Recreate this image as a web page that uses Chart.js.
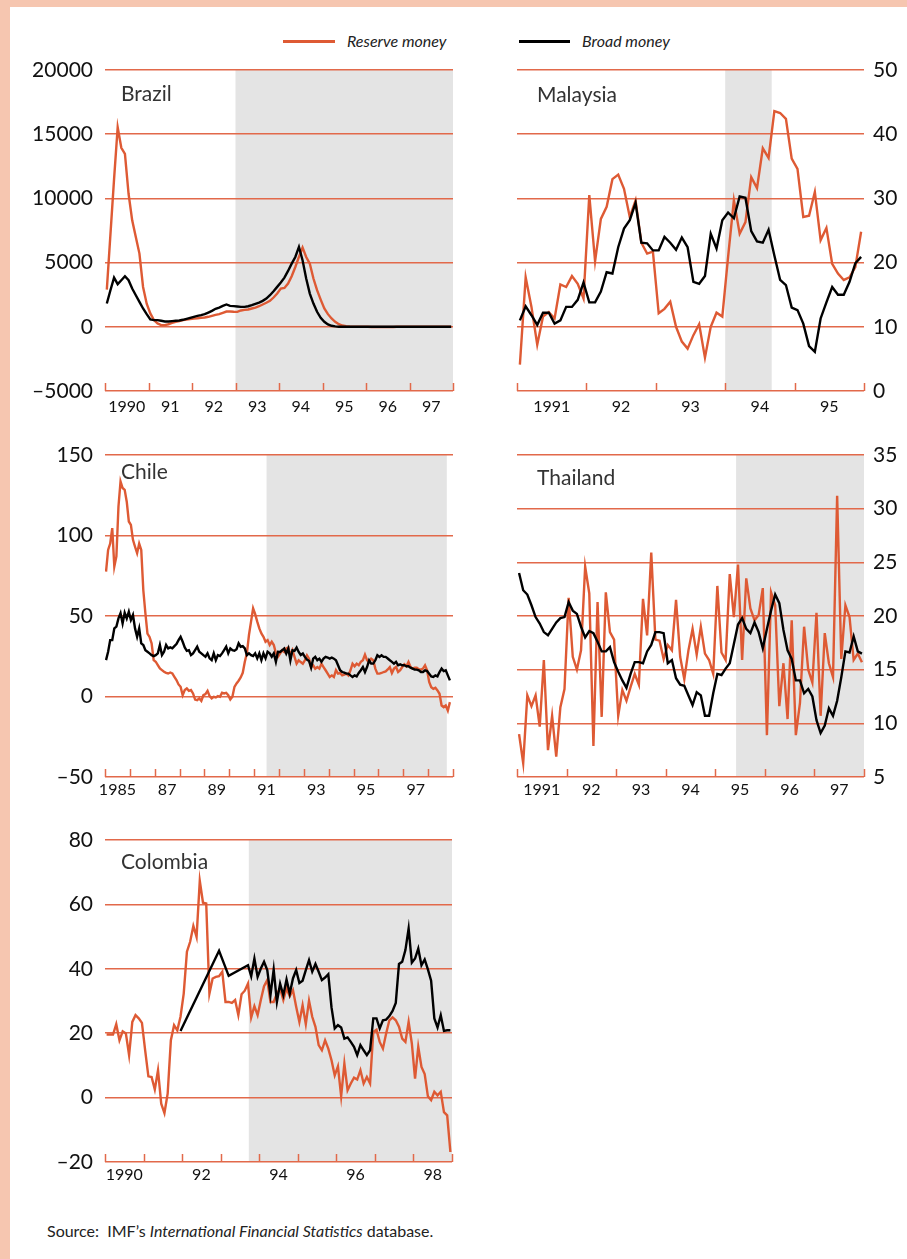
<!DOCTYPE html>
<html>
<head>
<meta charset="utf-8">
<script src="https://cdn.jsdelivr.net/npm/chart.js@4.4.1/dist/chart.umd.min.js"></script>
<style>
  html, body { margin:0; padding:0; }
  body { width:907px; height:1259px; background:#fff; position:relative; overflow:hidden; font-family: Lato, "Open Sans", sans-serif; }
  .abs { position:absolute; }
  canvas { position:absolute; }
  .title { position:absolute; font-size:21px; line-height:22px; color:#333; }
  .leg { position:absolute; font-size:16px; font-style:italic; color:#222; line-height:18px; }
</style>
</head>
<body>
<div class="abs" style="left:0;top:0;width:907px;height:7px;background:#f6c6b0"></div>
<div class="abs" style="left:0;top:0;width:10px;height:1259px;background:#f6c6b0"></div>

<div class="abs" style="left:283px;top:40px;width:52px;height:3px;background:#de5a34"></div>
<div class="leg" style="left:347px;top:32px">Reserve money</div>
<div class="abs" style="left:519px;top:40px;width:51px;height:3px;background:#000"></div>
<div class="leg" style="left:582px;top:32px">Broad money</div>

<canvas id="cBrazil"></canvas>
<canvas id="cMalaysia"></canvas>
<canvas id="cChile"></canvas>
<canvas id="cThailand"></canvas>
<canvas id="cColombia"></canvas>

<div class="title" style="left:121px;top:82px">Brazil</div>
<div class="title" style="left:537px;top:83px">Malaysia</div>
<div class="title" style="left:121px;top:460px">Chile</div>
<div class="title" style="left:537px;top:466px">Thailand</div>
<div class="title" style="left:121px;top:850px">Colombia</div>

<div class="abs" style="left:47px;top:1221px;font-size:16px;line-height:20px;color:#222">Source:&nbsp; IMF’s <i>International Financial Statistics</i> database.</div>

<script>
// ---------------- DATA (monthly) ----------------
const seriesNames = ['Reserve money', 'Broad money'];

// Brazil, Jan 1990 – Dec 1997
const brazilStart = 1990;
const brazilReserve = [
  2900, 7200, 11500, 15540, 13940, 13470, 10360, 8290, 7000, 5700, 3100, 1800,
  1040, 520, 260, 130, 130, 200, 300, 390, 440, 520, 570, 600,
  650, 670, 700, 725, 780, 855, 930, 985, 1090, 1190, 1190, 1170,
  1165, 1270, 1320, 1350, 1425, 1500, 1600, 1740, 1870, 2020, 2280, 2590,
  2980, 3030, 3370, 3940, 4660, 5440, 6170, 5440, 4920, 3760, 2850, 2120,
  1425, 985, 650, 390, 200, 100, 50, 20, 10, 0, 0, 0,
  0, -10, -10, -20, -20, -20, -10, -10, 0, 0, 0, 0,
  0, 0, 0, 0, 0, 0, 0, 0, 0, 0, 0, 0
];
const brazilBroad = [
  1810, 2850, 3830, 3320, 3630, 3940, 3630, 2980, 2460, 1940, 1425, 985,
  570, 520, 520, 470, 415, 415, 440, 470, 490, 545, 620, 700,
  780, 855, 910, 985, 1110, 1240, 1400, 1500, 1630, 1740, 1630, 1610,
  1580, 1550, 1550, 1600, 1680, 1790, 1890, 2020, 2200, 2460, 2770, 3110,
  3450, 3830, 4350, 4920, 5440, 6220, 5180, 3760, 2590, 1810, 1170, 700,
  390, 180, 80, 30, 0, 0, 0, 0, 0, 0, 0, 0,
  0, 0, 0, 0, 0, 0, 0, 0, 0, 0, 0, 0,
  0, 0, 0, 0, 0, 0, 0, 0, 0, 0, 0, 0
];
const brazilYTicks = [-5000, 20000, 5000];
const brazilXRange = [1990, 1998];
const brazilLabelYears = [1990, 1991, 1992, 1993, 1994, 1995, 1996, 1997];
const brazilLabels = ['1990', '91', '92', '93', '94', '95', '96', '97'];
const brazilShade = [1993, 1998];

// Malaysia, Jan 1991 – Dec 1995
const malaysiaStart = 1991;
const malaysiaReserve = [
  4.1, 17.7, 13.1, 7.2, 11.6, 12.3, 11.3, 16.6, 16.2, 17.9, 16.7, 14.4,
  30.5, 20.2, 26.8, 28.7, 33.0, 33.7, 31.5, 27.1, 29.7, 23.1, 21.4, 21.7,
  12.1, 12.8, 13.9, 10.0, 7.7, 6.6, 8.7, 10.4, 5.2, 10.0, 12.2, 11.6,
  20.9, 29.7, 24.5, 26.3, 33.3, 31.6, 37.8, 36.3, 43.6, 43.3, 42.4, 36.2,
  34.6, 27.1, 27.3, 31.0, 23.5, 25.4, 19.8, 18.3, 17.3, 17.7, 19.3, 24.8
];
const malaysiaBroad = [
  11.0, 13.2, 11.8, 10.3, 12.2, 12.2, 10.5, 11.0, 13.1, 13.1, 14.2, 16.9,
  13.8, 13.8, 15.5, 18.5, 18.3, 22.4, 25.3, 26.6, 29.3, 23.1, 23.0, 21.9,
  21.9, 24.0, 23.1, 22.0, 23.9, 22.4, 17.0, 16.7, 17.9, 24.5, 22.2, 26.6,
  27.8, 26.9, 30.3, 30.1, 24.9, 23.3, 23.1, 25.1, 21.1, 17.3, 16.5, 13.0,
  12.6, 10.5, 7.0, 6.1, 11.3, 13.8, 16.2, 15.0, 15.0, 17.0, 19.9, 20.9
];
const malaysiaYTicks = [0, 50, 10];
const malaysiaXRange = [1991, 1996];
const malaysiaLabelYears = [1991, 1992, 1993, 1994, 1995];
const malaysiaLabels = ['1991', '92', '93', '94', '95'];
const malaysiaShade = [1994, 1994.67];

// Chile, Jan 1985 – Nov 1998
const chileStart = 1985;
const chileReserve = [
  77.6, 91, 95, 104.6, 80.7, 87, 118, 133.6, 129.5, 128.4, 121, 108.7,
  106.6, 97.3, 93, 89, 95, 91, 66, 51.7, 39, 37, 33, 22.6,
  21.6, 19.5, 17.4, 16.4, 15.4, 14.7, 14.3, 14.9, 14.3, 12.2, 10.2, 7.5,
  6, 0.8, 4, 5, 3.5, 4, 1.9, -1.9, -2.3, -1.2, -2.7, 0.8,
  1.5, 3.5, 0.2, -1.2, -0.2, -0.6, 0.2, -0.2, 2.3, 1.9, 2.3, 0.8,
  -1.9, -0.2, 6, 8.1, 9.8, 11.8, 14.7, 21.6, 26.8, 38.2, 46.5, 54.8,
  51.2, 46.5, 42.3, 39.2, 37.1, 34, 35, 32, 34, 32, 26.8, 24.7,
  26.7, 28.7, 27.7, 29.8, 30.4, 25.6, 28.7, 24.6, 20.4, 22.5, 21.4,
  20.4, 22.5, 25.6, 23.5, 18.3, 19.4, 17.3, 18.3, 17.3, 20.4,
  18.3, 16.3, 14.2, 12.1, 13.1, 12.1, 16.3, 14.2, 14.6, 13.1, 13.6,
  14.2, 13.1, 16.3, 20.4, 18.8, 20.4, 19.4, 21.5, 22.5, 26,
  22.5, 21.5, 23.5, 22.5, 17.3, 14.2, 14.2, 14.6, 15.2, 15.6, 16.8,
  18.3, 14.6, 17.3, 18.3, 15.2, 16.3, 18.3, 20, 18.8, 21.5,
  18.3, 17.3, 17.9, 17.9, 17.0, 16.7, 17.3, 19.4, 16.3, 9, 5.8,
  4.8, 5.4, 3.8, 1.7, -5.6, -6.7, -5.6, -8.8, -3.5
];
const chileBroad = [
  22.6, 27.8, 35, 35, 42.3, 43.4, 48.5, 51.7, 45.4, 52, 48.5, 52.7,
  47.5, 50.6, 42.3, 37.1, 42.3, 33, 32, 28.8, 27.8, 26.8, 25.7, 25.1,
  25.7, 26.8, 32, 25.7, 27.8, 32, 29.9, 30.5, 29.9, 31.3, 32.6, 35,
  37.1, 34, 30.5, 28.4, 28.8, 25.7, 26.8, 28.8, 30.9, 27.8, 26.8, 25.7,
  24.7, 26.8, 23.7, 22.6, 26.8, 22.6, 25.7, 25.1, 26.8, 28.8, 30.9, 26.8,
  29.9, 28.8, 28.4, 29.3, 33, 30.9, 31.3, 29.9, 25.7, 26.8, 25.7, 25.1,
  26.8, 23.7, 26.8, 22.6, 26.8, 23.7, 27.8, 26.8, 24.7, 26.8, 21.6, 27.8,
  27.7, 28.7, 29.8, 26.7, 29.8, 22.5, 28.7, 28.3, 30.4, 27.7, 25.8,
  26.7, 24.6, 22.9, 22.1, 17.9, 23.5, 24.6, 22.5, 23.5, 21.5,
  23.5, 24.6, 24.2, 23.5, 24.2, 23.5, 22.5, 19.4, 16.3, 15.2, 14.8,
  14.2, 14.2, 13.1, 12.1, 13.1, 12.5, 14.6, 16.3, 18.3, 15.2,
  18.3, 22.5, 20.4, 20.4, 22.5, 25.6, 24.6, 25.6, 24.6, 24.6, 23.6,
  22.5, 21.5, 20.4, 21.5, 19.4, 20, 19.4, 19.4, 18.8, 18.8,
  17.9, 17.3, 16.7, 16.7, 16.2, 15.2, 15.2, 16.3, 15.8, 14.2, 12.5,
  12.1, 13.1, 12.5, 15.2, 17.3, 15.8, 16.3, 13.1, 10
];
const chileYTicks = [-50, 150, 50];
const chileXRange = [1985, 1999];
const chileLabelYears = [1985, 1987, 1989, 1991, 1993, 1995, 1997];
const chileLabels = ['1985', '87', '89', '91', '93', '95', '97'];
const chileShade = [1991.5, 1998.75];

// Thailand, Jan 1991 – Dec 1997
const thailandStart = 1991;
const thailandReserve = [
  9.0, 6.3, 12.6, 11.6, 12.6, 9.7, 15.9, 7.5, 10.7, 6.9, 11.5, 13.2,
  21.7, 16.2, 15.0, 16.8, 24.6, 22.1, 7.9, 21.3, 10.6, 22.2, 18.5, 17.8,
  10.7, 13.1, 12.1, 13.4, 14.6, 13.6, 21.6, 18.2, 25.9, 17.8, 17.7, 16.0,
  17.3, 16.8, 21.5, 16.2, 14.1, 16.8, 18.8, 16.4, 19.0, 16.5, 15.9, 14.6,
  22.8, 16.6, 15.9, 23.9, 19.9, 24.8, 15.9, 23.5, 20.7, 19.6, 20.1, 22.6,
  8.9, 22.2, 21.0, 11.6, 15.6, 10.4, 19.6, 8.9, 11.9, 19.0, 15.0, 13.8,
  20.3, 10.7, 18.4, 15.6, 14.3, 31.2, 16.0, 21.0, 19.9, 15.9, 16.5, 15.7
];
const thailandBroad = [
  24.0, 22.4, 22.0, 21.0, 19.9, 19.3, 18.5, 18.2, 18.8, 19.4, 19.8, 19.9,
  21.3, 20.5, 20.2, 19.0, 18.0, 18.6, 18.4, 17.6, 16.7, 16.7, 17.1, 15.7,
  14.8, 14.0, 13.3, 14.6, 15.7, 15.7, 15.6, 16.7, 17.3, 18.5, 18.5, 18.4,
  15.6, 15.9, 14.2, 13.6, 13.5, 12.6, 11.7, 12.9, 12.6, 10.7, 10.7, 12.8,
  14.6, 14.5, 15.1, 15.6, 17.4, 19.2, 19.8, 18.8, 18.4, 19.4, 18.5, 17.0,
  18.8, 20.5, 22.0, 21.2, 18.7, 16.8, 16.0, 14.0, 14.0, 12.8, 13.2, 12.5,
  10.3, 9.1, 9.8, 11.4, 10.7, 12.1, 14.3, 16.7, 16.6, 18.1, 16.7, 16.5
];
const thailandYTicks = [5, 35, 5];
const thailandXRange = [1991, 1998];
const thailandLabelYears = [1991, 1992, 1993, 1994, 1995, 1996, 1997];
const thailandLabels = ['1991', '92', '93', '94', '95', '96', '97'];
const thailandShade = [1995.42, 1998];

// Colombia, Jan 1990 – Dec 1998 (broad money missing before late 1991, sparse until 1993)
const colombiaStart = 1990;
const colombiaReserve = [
  19.6, 19.6, 19.6, 22.8, 17.8, 20.6, 19.9, 13.2, 23.5, 25.6, 24.6, 23.2,
  14.7, 6.6, 6.4, 2.5, 8.5, -1.9, -4.8, 1.2, 17.8, 22.5, 20.9, 25.1,
  32.3, 45.3, 48.4, 53.3, 49.9, 67.3, 60.5, 60.3, 32.3, 37.0, 37.5, 37.7,
  39.1, 29.7, 29.7, 29.4, 30.3, 25.6, 32.1, 33.2, 35.4, 24.9, 28.4, 25.6,
  30.3, 34.6, 36.5, 29.7, 29.7, 32.3, 33.9, 30.3, 33.9, 31.5, 33.4, 28.2,
  23.5, 28.7, 22.8, 30.1, 25.1, 22.0, 16.3, 14.7, 17.8, 15.2, 11.6, 6.9,
  9.7, 0.4, 10.6, 2.3, 4.4, 6.2, 5.6, 8.5, 4.4, 6.4, 4.4, 20.4,
  21.1, 17.3, 15.2, 19.9, 24.0, 24.9, 24.0, 22.0, 18.3, 17.3, 23.5, 16.8,
  5.9, 15.8, 9.5, 7.3, 0.4, -0.8, 1.8, 0.7, 1.8, -4.5, -5.5, -16.9
];
const colombiaBroad = [
  null, null, null, null, null, null, null, null, null, null, null, null,
  null, null, null, null, null, null, null, null, null, null, null, 20.7,
  null, null, null, null, null, null, null, null, null, null, null, 45.6,
  null, null, 37.8, null, null, null, null, null, 41.1, 37.7, 43.2, 37.5,
  40.1, 42.2, 39.6, 31.8, 39.8, 29.7, 35.4, 31.8, 36.7, 32.3, 37.0, 39.6,
  35.6, 36.3, 39.6, 42.7, 39.1, 41.5, 39.1, 36.5, 37.3, 38.3, 28.0, 21.5,
  22.5, 21.8, 18.3, 18.7, 17.3, 15.8, 13.2, 16.3, 14.7, 13.2, 14.7, 24.6,
  24.6, 21.5, 24.0, 24.2, 25.3, 26.9, 29.4, 41.5, 42.2, 45.8, 52.5, 41.9,
  43.2, 46.3, 41.1, 42.9, 39.8, 36.3, 24.6, 21.8, 25.6, 20.7, 20.9, 20.9
];
const colombiaYTicks = [-20, 80, 20];
const colombiaXRange = [1990, 1999];
const colombiaLabelYears = [1990, 1992, 1994, 1996, 1998];
const colombiaLabels = ['1990', '92', '94', '96', '98'];
const colombiaShade = [1993.73, 1999];

// ---------------- STYLE ----------------
const RED = '#de5a34';
const GRID = '#e2694a';
const SHADE = '#e4e4e4';
const FONT = 'Lato, "Open Sans", sans-serif';

const decoPlugin = {
  id: 'deco',
  beforeDraw(chart, args, opts) {
    const { ctx, chartArea: a, scales: { x } } = chart;
    const x0 = x.getPixelForValue(opts.shade[0]);
    const x1 = x.getPixelForValue(opts.shade[1]);
    ctx.save();
    ctx.fillStyle = SHADE;
    ctx.fillRect(x0, a.top, x1 - x0, a.bottom - a.top);
    ctx.restore();
  },
  beforeDatasetsDraw(chart, args, opts) {
    const { ctx, chartArea: a, scales: { x } } = chart;
    ctx.save();
    ctx.strokeStyle = GRID;
    ctx.lineWidth = 1.5;
    for (let yr = Math.ceil(x.min); yr <= x.max; yr++) {
      const px = Math.round(x.getPixelForValue(yr)) + 0.5;
      ctx.beginPath();
      ctx.moveTo(px, a.bottom);
      ctx.lineTo(px, a.bottom - 8);
      ctx.stroke();
    }
    ctx.restore();
  }
};

function toPoints(start, arr) {
  return arr.map((v, i) => ({ x: start + (i + 0.5) / 12, y: v }));
}
function fmtY(v) { return v < 0 ? '\u2013' + Math.abs(v) : String(v); }

function buildPanel(id, p) {
  const cv = document.getElementById(id);
  const left = p.yPos === 'left';
  const canvasLeft = left ? 10 : 470;
  const canvasRight = left ? 470 : 907;
  const topPad = 34;
  const xH = 34;
  const canvasTop = p.area.t - topPad;
  const canvasBottom = p.area.b + xH;
  cv.width = canvasRight - canvasLeft;
  cv.height = canvasBottom - canvasTop;
  cv.style.left = canvasLeft + 'px';
  cv.style.top = canvasTop + 'px';
  cv.style.width = cv.width + 'px';
  cv.style.height = cv.height + 'px';
  const yW = left ? p.area.l - canvasLeft : canvasRight - p.area.r;
  const padding = left
    ? { left: 0, right: canvasRight - p.area.r, top: topPad, bottom: 0 }
    : { left: p.area.l - canvasLeft, right: 0, top: topPad, bottom: 0 };

  new Chart(cv, {
    type: 'line',
    data: {
      datasets: [
        { label: seriesNames[1], data: toPoints(p.start, p.broad), borderColor: '#000', borderWidth: 2.4, pointRadius: 0, tension: 0, spanGaps: true, fill: false },
        { label: seriesNames[0], data: toPoints(p.start, p.reserve), borderColor: RED, borderWidth: 2.4, pointRadius: 0, tension: 0, spanGaps: true, fill: false }
      ]
    },
    options: {
      responsive: false,
      animation: false,
      devicePixelRatio: 1,
      layout: { padding },
      plugins: { legend: { display: false }, tooltip: { enabled: false }, deco: { shade: p.shade } },
      scales: {
        x: {
          type: 'linear',
          min: p.xRange[0], max: p.xRange[1],
          afterBuildTicks(s) { s.ticks = p.labelYears.map(v => ({ value: v + 0.5 })); },
          afterFit(s) { s.height = xH; },
          ticks: {
            autoSkip: false, maxRotation: 0, padding: p.xPad,
            callback: (v, i) => p.labels[i],
            font: { family: FONT, size: 16 }, color: '#111'
          },
          grid: { display: false, drawTicks: false },
          border: { display: false }
        },
        y: {
          position: p.yPos,
          min: p.yTicks[0], max: p.yTicks[1],
          afterFit(s) { s.width = yW; },
          ticks: {
            stepSize: p.yTicks[2], padding: p.yPad,
            callback: fmtY,
            font: { family: FONT, size: 21 }, color: '#111'
          },
          grid: { color: GRID, lineWidth: 1.5, drawTicks: false },
          border: { display: false }
        }
      }
    },
    plugins: [decoPlugin]
  });
}

buildPanel('cBrazil', {
  yPos: 'left', area: { l: 105, t: 70, r: 453, b: 391 }, start: brazilStart,
  reserve: brazilReserve, broad: brazilBroad, yTicks: brazilYTicks, xRange: brazilXRange,
  labelYears: brazilLabelYears, labels: brazilLabels, shade: brazilShade, xPad: 6, yPad: 12
});
buildPanel('cMalaysia', {
  yPos: 'right', area: { l: 517, t: 70, r: 864, b: 391 }, start: malaysiaStart,
  reserve: malaysiaReserve, broad: malaysiaBroad, yTicks: malaysiaYTicks, xRange: malaysiaXRange,
  labelYears: malaysiaLabelYears, labels: malaysiaLabels, shade: malaysiaShade, xPad: 6, yPad: 9
});
buildPanel('cChile', {
  yPos: 'left', area: { l: 105, t: 455, r: 453, b: 777 }, start: chileStart,
  reserve: chileReserve, broad: chileBroad, yTicks: chileYTicks, xRange: chileXRange,
  labelYears: chileLabelYears, labels: chileLabels, shade: chileShade, xPad: 3, yPad: 12
});
buildPanel('cThailand', {
  yPos: 'right', area: { l: 517, t: 455, r: 864, b: 777 }, start: thailandStart,
  reserve: thailandReserve, broad: thailandBroad, yTicks: thailandYTicks, xRange: thailandXRange,
  labelYears: thailandLabelYears, labels: thailandLabels, shade: thailandShade, xPad: 3, yPad: 9
});
buildPanel('cColombia', {
  yPos: 'left', area: { l: 105, t: 840, r: 452, b: 1162 }, start: colombiaStart,
  reserve: colombiaReserve, broad: colombiaBroad, yTicks: colombiaYTicks, xRange: colombiaXRange,
  labelYears: colombiaLabelYears, labels: colombiaLabels, shade: colombiaShade, xPad: 3, yPad: 12
});
</script>
</body>
</html>
